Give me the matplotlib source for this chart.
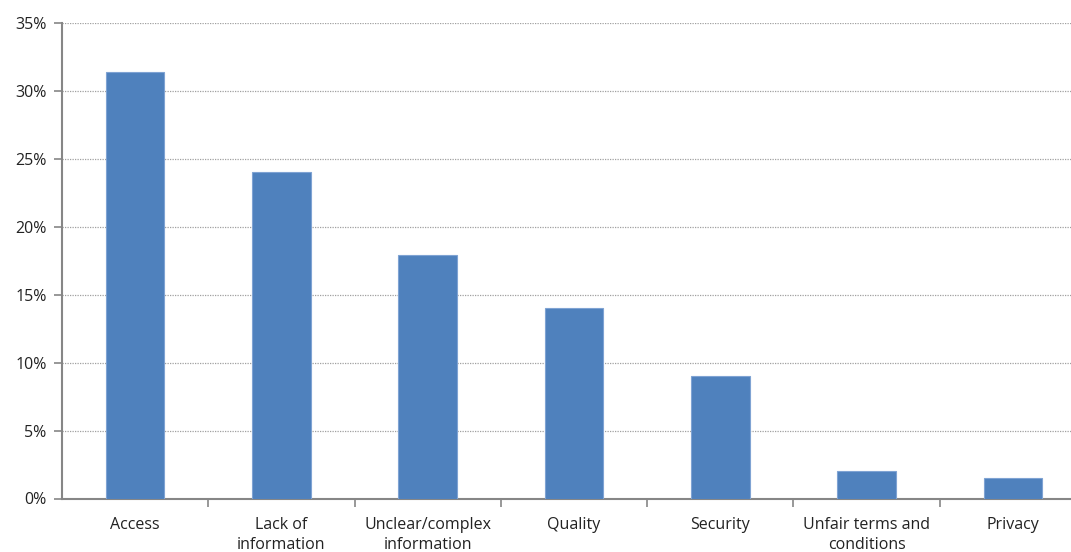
import numpy as np
import matplotlib.pyplot as plt
from matplotlib.ticker import PercentFormatter

categories = ['Access', 'Lack of\ninformation', 'Unclear/complex\ninformation', 'Quality',
              'Security', 'Unfair terms and\nconditions', 'Privacy']
values = [31.4, 24.0, 17.9, 14.0, 9.0, 2.0, 1.5]

plt.rcParams['font.family'] = ['Open Sans', 'DejaVu Sans']

W, H = 1071, 552
fig = plt.figure(figsize=(W / 100, H / 100), dpi=100)
left, right, top, bottom = 62, 1086, 23, 498.5
ax = fig.add_axes([left / W, 1 - bottom / H, (right - left) / W, (bottom - top) / H])

x = np.arange(len(categories))
ax.bar(x, values, width=0.4, color='#4F81BD', edgecolor='#7FA3D3', linewidth=0.8, zorder=3)

ax.set_xlim(-0.5, len(categories) - 0.5)
ax.set_ylim(0, 35)
ax.set_yticks(np.arange(0, 36, 5))
ax.yaxis.set_major_formatter(PercentFormatter(decimals=0))
ax.yaxis.grid(True, linestyle=(0, (1, 1)), color='#A0A0A0', linewidth=0.9, zorder=0)

ax.set_xticks(x)
ax.set_xticklabels(categories, fontsize=11.5, color='#222222', linespacing=1.35)
ax.set_xticks(np.arange(0.5, len(categories), 1), minor=True)
ax.tick_params(axis='x', which='major', length=0, pad=13)
ax.tick_params(axis='x', which='minor', length=6, color='#868686', width=1.2)
ax.tick_params(axis='y', length=6, color='#868686', width=1.2, labelsize=11.5,
               labelcolor='#222222', pad=5)

for s in ['top', 'right']:
    ax.spines[s].set_visible(False)
for s in ['left', 'bottom']:
    ax.spines[s].set_color('#868686')
    ax.spines[s].set_linewidth(1.5)

fig.savefig('out.png', dpi=100)
